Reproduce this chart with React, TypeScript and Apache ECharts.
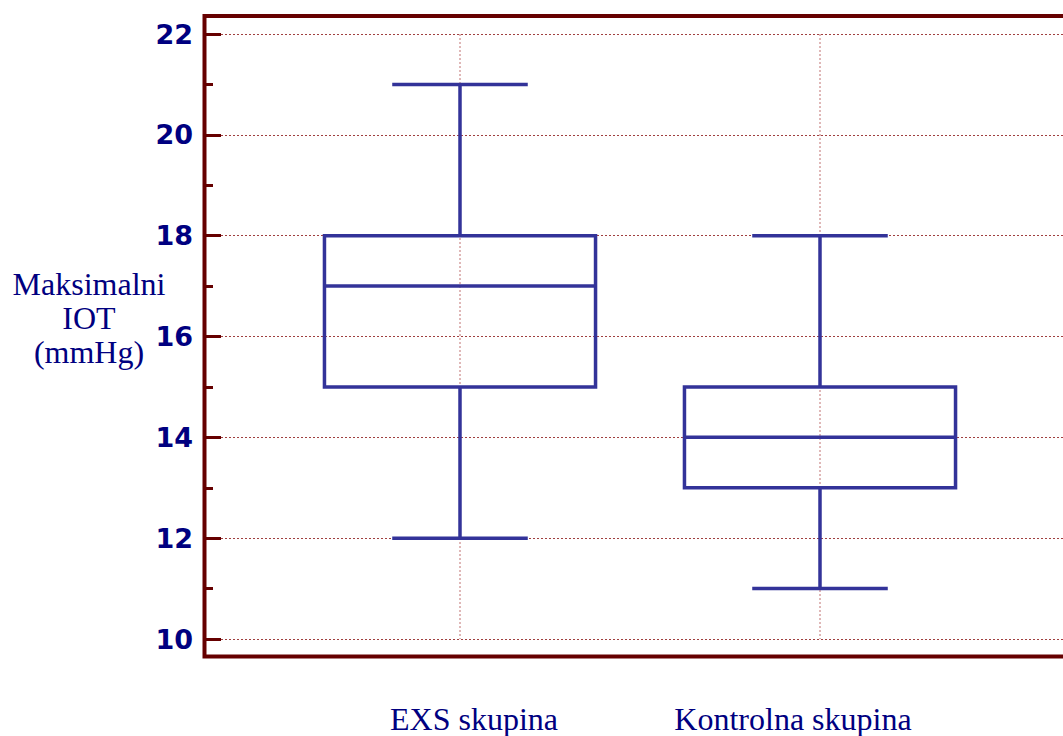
import React, { useEffect, useRef } from "react";
import * as echarts from "echarts";

const categories = ["EXS skupina", "Kontrolna skupina"];
const lowValues = [12, 11];
const q1Values = [15, 13];
const medianValues = [17, 14];
const q3Values = [18, 15];
const highValues = [21, 18];
const yMin = 10;
const yMax = 22;
const yInterval = 2;
const yAxisTitle = "Maksimalni\nIOT\n(mmHg)";

const FRAME = "#660000";
const BOX = "#333399";
const NAVY = "#000080";

export default function App() {
  const ref = useRef<HTMLDivElement>(null);
  useEffect(() => {
    if (!ref.current) return;
    const chart = echarts.init(ref.current, null, { renderer: "svg" });
    const data = categories.map((_, i) => [
      i,
      lowValues[i],
      q1Values[i],
      medianValues[i],
      q3Values[i],
      highValues[i],
    ]);
    const renderItem = (params: any, api: any) => {
      const x = api.value(0);
      const pLow = api.coord([x, api.value(1)]);
      const pQ1 = api.coord([x, api.value(2)]);
      const pMed = api.coord([x, api.value(3)]);
      const pQ3 = api.coord([x, api.value(4)]);
      const pHigh = api.coord([x, api.value(5)]);
      const pTop = api.coord([x, yMax]);
      const pBot = api.coord([x, yMin]);
      const band = api.size([1, 0])[0];
      const boxW = band * 0.753;
      const capW = boxW / 2;
      const cx = pMed[0];
      const lineStyle = { stroke: BOX, lineWidth: 3.5 };
      return {
        type: "group",
        children: [
          {
            type: "line",
            shape: { x1: cx, y1: pTop[1], x2: cx, y2: pBot[1] },
            style: { stroke: "#c07070", lineWidth: 1, lineDash: [2, 2] },
          },
          {
            type: "line",
            shape: { x1: cx, y1: pHigh[1], x2: cx, y2: pQ3[1] },
            style: lineStyle,
          },
          {
            type: "line",
            shape: { x1: cx, y1: pQ1[1], x2: cx, y2: pLow[1] },
            style: lineStyle,
          },
          {
            type: "line",
            shape: { x1: cx - capW / 2, y1: pHigh[1], x2: cx + capW / 2, y2: pHigh[1] },
            style: lineStyle,
          },
          {
            type: "line",
            shape: { x1: cx - capW / 2, y1: pLow[1], x2: cx + capW / 2, y2: pLow[1] },
            style: lineStyle,
          },
          {
            type: "rect",
            shape: { x: cx - boxW / 2, y: pQ3[1], width: boxW, height: pQ1[1] - pQ3[1] },
            style: { fill: "none", stroke: BOX, lineWidth: 3.5 },
          },
          {
            type: "line",
            shape: { x1: cx - boxW / 2, y1: pMed[1], x2: cx + boxW / 2, y2: pMed[1] },
            style: lineStyle,
          },
        ],
      };
    };
    chart.setOption({
      animation: false,
      backgroundColor: "#ffffff",
      grid: [
        { left: 205, right: 0, top: 34, bottom: 97 },
        { left: 280, right: 63, top: 34, bottom: 97 },
      ],
      xAxis: [
        { type: "value", gridIndex: 0, min: 0, max: 1, show: false },
        {
          type: "category",
          gridIndex: 1,
          data: categories,
          axisLine: { show: false },
          axisTick: { show: false },
          splitLine: { show: false },
          axisLabel: {
            margin: 63,
            formatter: (v: string, i: number) => (i === 0 ? `{a|${v}}` : `{b|${v}}`),
            rich: {
              a: {
                fontFamily: "Liberation Serif",
                fontSize: 32,
                lineHeight: 34,
                color: NAVY,
                padding: [0, 0, 0, 28],
              },
              b: {
                fontFamily: "Liberation Serif",
                fontSize: 32,
                lineHeight: 34,
                color: NAVY,
                padding: [0, 54, 0, 0],
              },
            },
          },
        },
      ],
      yAxis: [
        {
          type: "value",
          gridIndex: 0,
          min: yMin,
          max: yMax,
          interval: yInterval,
          axisLine: { show: false },
          axisTick: {
            show: true,
            inside: true,
            length: 16,
            lineStyle: { color: FRAME, width: 3 },
          },
          minorTick: {
            show: true,
            splitNumber: 2,
            length: 8,
            lineStyle: { color: FRAME, width: 3 },
          },
          axisLabel: {
            margin: 12,
            fontFamily: "DejaVu Sans",
            fontWeight: "bold",
            fontSize: 27,
            color: NAVY,
          },
          splitLine: {
            show: true,
            lineStyle: { color: "#a04040", width: 1, type: [2, 2] },
          },
        },
        { type: "value", gridIndex: 1, min: yMin, max: yMax, show: false },
      ],
      graphic: [
        {
          type: "polyline",
          shape: {
            points: [
              [1075, 16],
              [204.5, 16],
              [204.5, 656.5],
              [1075, 656.5],
            ],
          },
          style: { stroke: FRAME, lineWidth: 4, fill: "none" },
          z: 10,
        },
        {
          type: "text",
          x: 89,
          y: 318,
          style: {
            text: yAxisTitle,
            fontFamily: "Liberation Serif",
            fontSize: 32,
            lineHeight: 34,
            fill: NAVY,
            textAlign: "center",
            textVerticalAlign: "middle",
          },
        },
      ],
      series: [
        {
          type: "custom",
          xAxisIndex: 1,
          yAxisIndex: 1,
          data,
          encode: { x: 0, y: [1, 2, 3, 4, 5] },
          renderItem,
          z: 5,
        },
      ],
    });
    return () => chart.dispose();
  }, []);
  return (
    <div
      ref={ref}
      style={{ position: "fixed", left: 0, top: 0, width: 1063, height: 736, background: "#fff" }}
    />
  );
}
